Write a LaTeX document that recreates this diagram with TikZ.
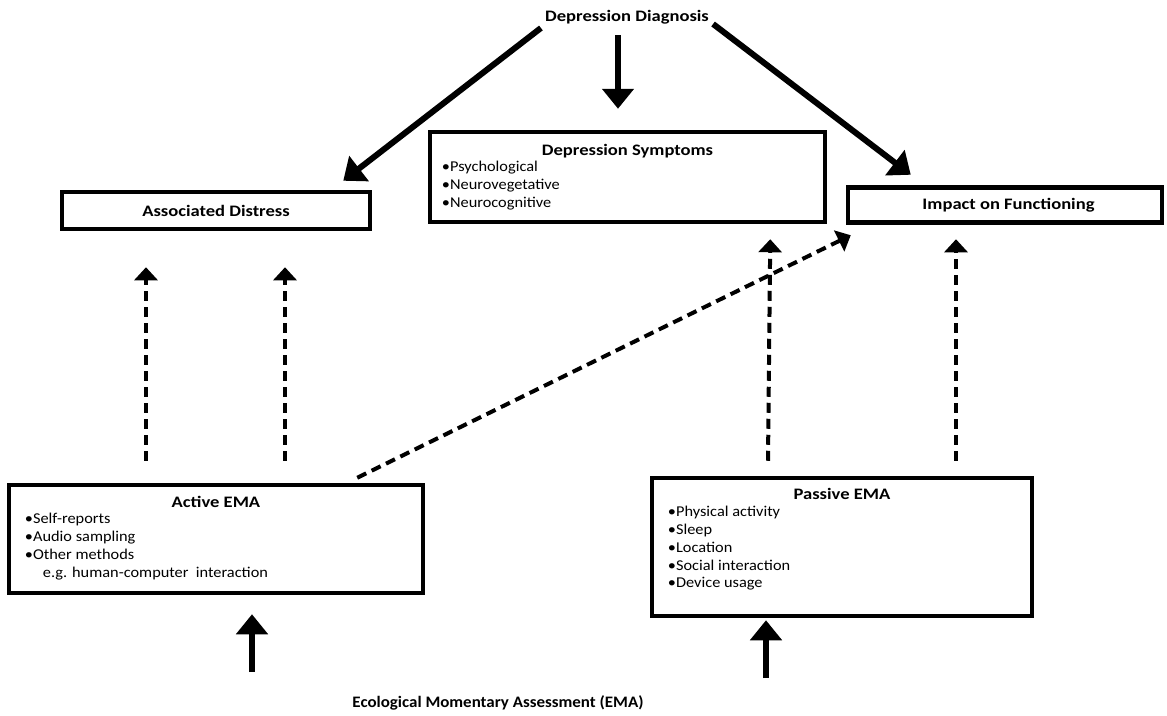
\documentclass[tikz,border=0pt]{standalone}
\usepackage{fontspec}
\setmainfont{Carlito}[FakeStretch=1.09,BoldFeatures={FakeStretch=1.16}]
\newfontfamily\labelfont{Carlito}[FakeStretch=1.0,BoldFeatures={FakeStretch=1.06}]
\usetikzlibrary{arrows.meta,calc}
\begin{document}
\begin{tikzpicture}[x=1pt,y=-1pt,
  box/.style={draw,line width=4.5pt,inner sep=0pt,font=\bfseries\fontsize{16}{18}\selectfont},
  ttl/.style={font=\bfseries\fontsize{16}{18}\selectfont,inner sep=0pt},
  items/.style={font=\fontsize{15}{17.9}\selectfont,align=left,inner sep=0pt,anchor=north west},
  solidarr/.style={line width=6pt,-{Triangle[length=20pt,width=31pt]}},
  dasharr/.style={line width=4pt,dash pattern=on 10pt off 6pt,-{Triangle[length=13pt,width=23pt]}},
]
\useasboundingbox (0,0) rectangle (1167,715);

% top label
\node[ttl] (diag) at (627,17.5) {Depression Diagnosis};

% symptom and outcome boxes
\node[box,minimum width=395pt,minimum height=90pt] (symp) at (627.5,177) {};
\node[ttl] (sympT) at ($(symp.north)+(0,21)$) {Depression Symptoms};
\node[items] (sympL) at ($(symp.north west)+(14,31.5)$)
  {\textbullet Psychological\\ \textbullet Neurovegetative\\ \textbullet Neurocognitive};

\node[box,minimum width=308pt,minimum height=37pt] (distress) at (216,210.5) {Associated Distress};
\node[box,minimum width=314pt,minimum height=35pt] (impact) at (1005,205) {\hspace*{7pt}Impact on Functioning};

% EMA boxes
\node[box,minimum width=414pt,minimum height=108pt] (active) at (216,539) {};
\node[ttl] (activeT) at ($(active.north)+(0,19)$) {Active EMA};
\node[items] (activeL) at ($(active.north west)+(18,30.5)$)
  {\textbullet Self-reports\\ \textbullet Audio sampling\\ \textbullet Other methods\\
   \hspace*{18pt}e.g. human-computer~ interaction};

\node[box,minimum width=380pt,minimum height=138pt] (passive) at (842,547) {};
\node[ttl] (passiveT) at ($(passive.north)+(0,18)$) {Passive EMA};
\node[items] (passiveL) at ($(passive.north west)+(18,30)$)
  {\textbullet Physical activity\\ \textbullet Sleep\\ \textbullet Location\\
   \textbullet Social interaction\\ \textbullet Device usage};

% bottom label
\node[ttl,font=\labelfont\bfseries\fontsize{16}{18}\selectfont] (ema) at (498,702.5) {Ecological Momentary Assessment (EMA)};
\coordinate (emaA) at (252,672);
\coordinate (emaP) at (766,678);

% diagnosis arrows
\draw[solidarr] ($(diag.west)+(-4,10.5)$) -- ($(distress.north east)+(-29,-9)$);
\draw[solidarr] ($(diag.center)+(-9,17.5)$) -- ($(symp.north)+(-9.5,-21)$);
\draw[solidarr] ($(diag.east)+(4,6.5)$) -- ($(impact.north west)+(65,-10.5)$);

% EMA inputs
\draw[solidarr] (emaA) -- ($(active.south)+(36,19)$);
\draw[solidarr] (emaP) -- ($(passive.south)+(-76,2)$);

% measurement links
\draw[dasharr] ($(active.north)+(-70,-22)$) -- ($(distress.south)+(-70,36)$);
\draw[dasharr] ($(active.north)+(69,-22)$) -- ($(distress.south)+(69,36)$);
\draw[dasharr] ($(active.north east)+(-68,-5)$) -- ($(impact.south west)+(5,10.5)$);
\draw[dasharr] ($(passive.north)+(-74,-15)$) -- ($(symp.south east)+(-57,15)$);
\draw[dasharr] ($(passive.north)+(114,-15)$) -- ($(impact.south)+(-49,14.5)$);
\end{tikzpicture}
\end{document}
